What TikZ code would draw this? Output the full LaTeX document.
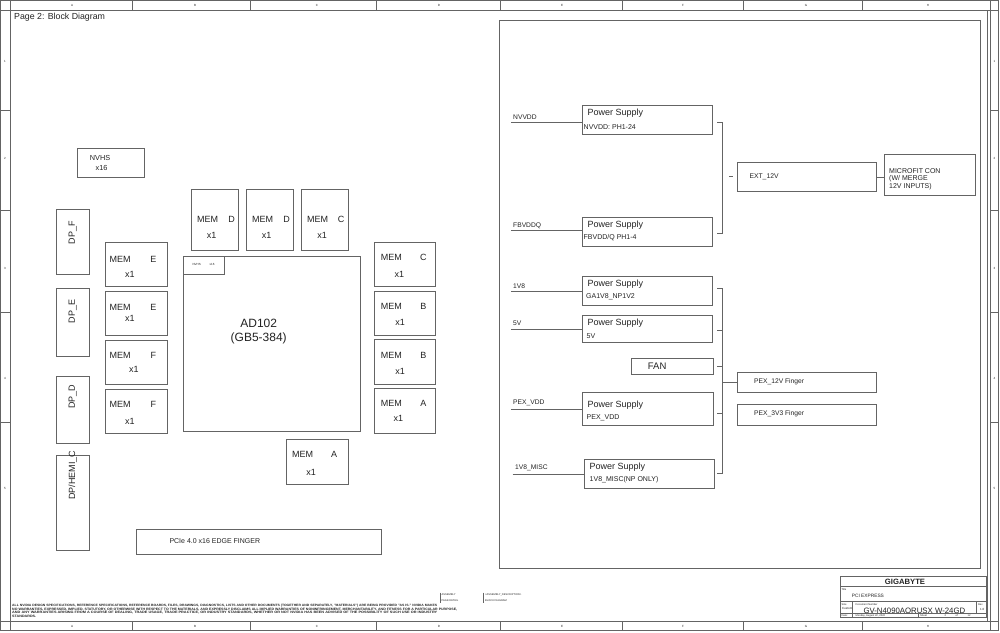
\documentclass[tikz,border=0pt]{standalone}
\usepackage{fontspec}
\setmainfont{Liberation Sans}
\usepackage{graphicx}
\usetikzlibrary{fit}
\definecolor{lc}{RGB}{100,100,100}
\definecolor{tcol}{RGB}{35,35,35}
\newcommand\fsz[1]{\fontsize{#1pt}{#1pt}\selectfont}
\newcommand\bx[5]{\node[bx, fit={(#2,#3) (#4,#5)}] (#1) {};}
\begin{document}
\begin{tikzpicture}[x=1pt,y=-1pt,
  bx/.style={draw=lc, line width=0.7pt, inner sep=0pt},
  wire/.style={draw=lc, line width=0.7pt},
  frm/.style={draw=lc, line width=0.6pt},
  tl/.style={inner sep=0pt, text=tcol, anchor=west},
  tcn/.style={inner sep=0pt, text=tcol, anchor=center},
  memt/.style={tcn, font=\fsz{9}},
  psl/.style={tl, font=\fsz{6.7}},
  pst/.style={tl, font=\fsz{9}},
  pss/.style={tl, font=\fsz{7}},
  tiny/.style={tl, font=\fsz{2.6}},
  strip/.style={tcn, font=\fsz{3}}]
\useasboundingbox (0,0) rectangle (1000,632);
\fill[white] (0,0) rectangle (1000,632);

% ---------- sheet frame ----------
\draw[frm] (0.5,0.5) rectangle (998.5,630.5);
\draw[frm] (0,10) -- (999,10);
\draw[frm] (0,621) -- (999,621);
\draw[frm] (10,0) -- (10,631);
\draw[frm] (990,0) -- (990,631);
\draw[frm] (987,10) -- (987,621);
\foreach \xx in {132,250,376,500,622,743,862} {
  \draw[frm] (\xx,0) -- (\xx,10);
  \draw[frm] (\xx,621) -- (\xx,631);
}
\foreach \yy in {110,210,312,422} {
  \draw[frm] (0,\yy) -- (10,\yy);
  \draw[frm] (990,\yy) -- (999,\yy);
}
\foreach \xx/\ll [count=\i] in {72/A,195/B,317/C,439/D,562/E,683/F,806/G,928/H} {
  \node[strip] (ct\i) at (\xx,5) {\ll};
  \node[strip] (cb\i) at (\xx,626) {\ll};
}
\foreach \yy/\ll [count=\i] in {61/1,158/2,268/3,378/4,488/5} {
  \node[strip] (rl\i) at (5,\yy) {\ll};
  \node[strip] (rr\i) at (994.5,\yy) {\ll};
}

\node[tl, font=\fsz{8.8}] (title) at (14,17) {Page 2: Block Diagram};

% ---------- left part ----------
\bx{nvhs}{77.3}{148}{144.3}{177.3}
\node[tcn, font=\fsz{7.3}] (nvhsA) at (100,158) {NVHS};
\node[tcn, font=\fsz{7.3}] (nvhsB) at (101.5,168) {x16};

% top memories
\bx{mD1}{191.3}{189}{238.7}{250.3}
\node[memt] (mD1a) at (207.7,219) {MEM};
\node[memt] (mD1b) at (231.7,219) {D};
\node[memt] (mD1c) at (211.7,235) {x1};
\bx{mD2}{246.3}{189}{293.7}{250.3}
\node[memt] (mD2a) at (262.7,219) {MEM};
\node[memt] (mD2b) at (286.7,219) {D};
\node[memt] (mD2c) at (266.7,235) {x1};
\bx{mC1}{301.3}{189}{348.7}{250.3}
\node[memt] (mC1a) at (317.7,219) {MEM};
\node[memt] (mC1b) at (341,219) {C};
\node[memt] (mC1c) at (322,235) {x1};

% GPU
\bx{gpu}{183.3}{256.3}{360.7}{431.3}
\bx{gpuin}{183.3}{256.3}{224.3}{274.3}
\node[tcn, font=\fsz{3}] (gin1) at (196.7,264.5) {NVHS};
\node[tcn, font=\fsz{3}] (gin2) at (212,264.5) {x16};
\node[tcn, font=\fsz{12}] (gpu1) at (258.7,323) {AD102};
\node[tcn, font=\fsz{12}] (gpu2) at (258.7,338.5) {(GB5-384)};

% right memories
\bx{mC2}{374.3}{242.3}{435.7}{286.3}
\node[memt] (mC2a) at (391.3,257.7) {MEM};
\node[memt] (mC2b) at (423.3,257.7) {C};
\node[memt] (mC2c) at (399.3,274) {x1};
\bx{mB1}{374.3}{291}{435.7}{335.3}
\node[memt] (mB1a) at (391.3,306.7) {MEM};
\node[memt] (mB1b) at (423.3,306.7) {B};
\node[memt] (mB1c) at (400,322.7) {x1};
\bx{mB2}{374.3}{339.7}{435.7}{384.3}
\node[memt] (mB2a) at (391.3,355.3) {MEM};
\node[memt] (mB2b) at (423.3,355.3) {B};
\node[memt] (mB2c) at (400,371) {x1};
\bx{mA1}{374.3}{388.7}{435.7}{433.3}
\node[memt] (mA1a) at (391.3,403.7) {MEM};
\node[memt] (mA1b) at (423.3,403.7) {A};
\node[memt] (mA1c) at (398.3,418.3) {x1};

% bottom memory
\bx{mA2}{286.7}{439}{348.7}{484.3}
\node[memt] (mA2a) at (302.7,454.3) {MEM};
\node[memt] (mA2b) at (334,454.3) {A};
\node[memt] (mA2c) at (311,472.3) {x1};

% PCIe
\bx{pcie}{136.7}{529}{381.7}{554.3}
\node[tl, font=\fsz{7}] (pciet) at (169.3,540.7) {PCIe 4.0 x16 EDGE FINGER};

% display outputs
\bx{dpF}{56.7}{209.3}{89.7}{274}
\node[tcn, font=\fsz{9}, rotate=90] (dpFt) at (72.7,232.5) {DP\_F};
\bx{dpE}{56.7}{288.3}{89.7}{356}
\node[tcn, font=\fsz{9}, rotate=90] (dpEt) at (72.7,311.7) {DP\_E};
\bx{dpD}{56.7}{376.7}{89.7}{443.3}
\node[tcn, font=\fsz{9}, rotate=90] (dpDt) at (72.7,396.7) {DP\_D};
\bx{dpC}{56.7}{455.7}{89.7}{550}
\node[tcn, font=\fsz{9}, rotate=90] (dpCt) at (72.7,475) {DP/HEMI\_C};

% left memories
\bx{mE1}{105.7}{242.3}{167.3}{286.7}
\node[memt] (mE1a) at (120,259) {MEM};
\node[memt] (mE1b) at (153.3,259) {E};
\node[memt] (mE1c) at (130,274) {x1};
\bx{mE2}{105.7}{291}{167.3}{335.3}
\node[memt] (mE2a) at (120,307.3) {MEM};
\node[memt] (mE2b) at (153.3,307.3) {E};
\node[memt] (mE2c) at (130,318.7) {x1};
\bx{mF1}{105.7}{340}{167.3}{384.3}
\node[memt] (mF1a) at (120,355.7) {MEM};
\node[memt] (mF1b) at (153.3,355.7) {F};
\node[memt] (mF1c) at (134,369.7) {x1};
\bx{mF2}{105.7}{389}{167.3}{433.3}
\node[memt] (mF2a) at (120,404.3) {MEM};
\node[memt] (mF2b) at (153.3,404.3) {F};
\node[memt] (mF2c) at (130,421) {x1};

% ---------- power panel ----------
\bx{panel}{499.3}{20}{980.7}{568}

\bx{psNV}{582.3}{105.3}{712.7}{134.3}
\node[pst] (psNVa) at (587.3,113.3) {Power Supply};
\node[pss] (psNVb) at (583.5,126.7) {NVVDD: PH1-24};
\bx{psFB}{582.3}{217.3}{712.7}{246.3}
\node[pst] (psFBa) at (587.3,225) {Power Supply};
\node[pss] (psFBb) at (583.5,237.7) {FBVDD/Q PH1-4};
\bx{ps18}{582.3}{276}{712.7}{305}
\node[pst] (ps18a) at (587.3,284) {Power Supply};
\node[pss] (ps18b) at (586,296.7) {GA1V8\_NP1V2};
\bx{ps5}{582.3}{315}{712.7}{342.7}
\node[pst] (ps5a) at (587.3,322.7) {Power Supply};
\node[pss] (ps5b) at (586.5,336) {5V};
\bx{fan}{631.7}{358.7}{713.3}{374.3}
\node[tl, font=\fsz{9.5}] (fant) at (647.7,366.3) {FAN};
\bx{psPX}{582.7}{392.3}{713.3}{425.3}
\node[pst] (psPXa) at (587.3,405) {Power Supply};
\node[pss] (psPXb) at (586.5,417.7) {PEX\_VDD};
\bx{psMS}{584.7}{459.3}{714.3}{488.3}
\node[pst] (psMSa) at (589.3,466.7) {Power Supply};
\node[pss] (psMSb) at (589.5,480) {1V8\_MISC(NP ONLY)};

\bx{ext}{737.3}{162.7}{876}{191}
\node[tl, font=\fsz{6.8}] (extt) at (749.3,176.3) {EXT\_12V};
\bx{mfit}{884.3}{154.3}{975.7}{195.3}
\node[tl, font=\fsz{7}] (mfit1) at (889,171) {MICROFIT CON};
\node[tl, font=\fsz{7}] (mfit2) at (889,178.8) {(W/ MERGE};
\node[tl, font=\fsz{7}] (mfit3) at (889,186.7) {12V INPUTS)};
\bx{p12}{737.3}{372.7}{876.7}{392.3}
\node[tl, font=\fsz{6.7}] (p12t) at (754,381.3) {PEX\_12V Finger};
\bx{p33}{737.3}{404.3}{876.7}{425}
\node[tl, font=\fsz{6.7}] (p33t) at (754,413.5) {PEX\_3V3 Finger};

% input rails
\coordinate (iNV) at (511,122.3);
\coordinate (iFB) at (511,230);
\coordinate (i18) at (511,291.7);
\coordinate (i5) at (511,329.3);
\coordinate (iPX) at (511,409.3);
\coordinate (iMS) at (512.7,474.3);
\draw[wire] (iNV) -- (iNV -| psNV.west);
\draw[wire] (iFB) -- (iFB -| psFB.west);
\draw[wire] (i18) -- (i18 -| ps18.west);
\draw[wire] (i5) -- (i5 -| ps5.west);
\draw[wire] (iPX) -- (iPX -| psPX.west);
\draw[wire] (iMS) -- (iMS -| psMS.west);
\node[psl] (lNV) at (513,116.7) {NVVDD};
\node[psl] (lFB) at (513,226) {FBVDDQ};
\node[psl] (l18) at (513,285.7) {1V8};
\node[psl] (l5) at (513,323.3) {5V};
\node[psl] (lPX) at (513,403.3) {PEX\_VDD};
\node[psl] (lMS) at (515,468.3) {1V8\_MISC};

% bracket to EXT_12V
\coordinate (b1s) at (717.3,122.7);
\coordinate (b1e) at (722.7,122.7);
\coordinate (b2s) at (717.3,233.3);
\coordinate (b2e) at (722.7,233.3);
\draw[wire] (b1s) -- (b1e) -- (b2e) -- (b2s);
\coordinate (d1) at (729.3,176);
\coordinate (d2) at (733.3,176);
\draw[wire] (d1) -- (d2);
\draw[wire] (ext.east) -- (ext.east -| mfit.west);

% bracket to PEX_12V
\coordinate (c1) at (717.3,288.3);
\coordinate (c1e) at (722.7,288.3);
\coordinate (c2) at (717.3,330.7);
\coordinate (c3) at (717.3,366);
\coordinate (c4) at (717.3,413.3);
\coordinate (c5) at (717.3,473.3);
\coordinate (c5e) at (722.7,473.3);
\coordinate (cm) at (722.7,382.7);
\draw[wire] (c1) -- (c1e) -- (c5e) -- (c5);
\draw[wire] (c2) -- (c2 -| c1e);
\draw[wire] (c3) -- (c3 -| c1e);
\draw[wire] (c4) -- (c4 -| c1e);
\draw[wire] (cm) -- (cm -| p12.west);

% ---------- bottom notes ----------
\node[tl] (disc1) at (12,605.7) {\resizebox{425pt}{2.3pt}{\bfseries\fsz{5}ALL NVIDIA DESIGN SPECIFICATIONS, REFERENCE SPECIFICATIONS, REFERENCE BOARDS, FILES, DRAWINGS, DIAGNOSTICS, LISTS AND OTHER DOCUMENTS (TOGETHER AND SEPARATELY, "MATERIALS") ARE BEING PROVIDED "AS IS." NVIDIA MAKES}};
\node[tl] (disc2) at (12,609.2) {\resizebox{445pt}{2.3pt}{\bfseries\fsz{5}NO WARRANTIES, EXPRESSED, IMPLIED, STATUTORY, OR OTHERWISE WITH RESPECT TO THE MATERIALS, AND EXPRESSLY DISCLAIMS ALL IMPLIED WARRANTIES OF NONINFRINGEMENT, MERCHANTABILITY, AND FITNESS FOR A PARTICULAR PURPOSE,}};
\node[tl] (disc3) at (12,612.7) {\resizebox{425pt}{2.3pt}{\bfseries\fsz{5}AND ANY WARRANTIES ARISING FROM A COURSE OF DEALING, TRADE USAGE, TRADE PRACTICE, OR INDUSTRY STANDARDS, WHETHER OR NOT NVIDIA HAS BEEN ADVISED OF THE POSSIBILITY OF SUCH USE OR INDUSTRY}};
\node[tl] (disc4) at (12,616.2) {\resizebox{24pt}{2.3pt}{\bfseries\fsz{5}STANDARDS.}};

\coordinate (v1a) at (440,592.7);
\coordinate (v1b) at (440,603.3);
\coordinate (v2a) at (483,592.7);
\coordinate (v2b) at (483,603.3);
\draw[frm, line width=0.4pt] (v1a) -- (v1b);
\draw[frm, line width=0.4pt] (v2a) -- (v2b);
\node[tiny] (as1) at (441.5,594.5) {ASSEMBLY};
\node[tiny] (as2) at (441.5,600.5) {PAGE DETAIL};
\node[tiny] (as3) at (485,594.5) {<ASSEMBLY\_DESCRIPTION>};
\node[tiny] (as4) at (485,600.5) {BLOCK DIAGRAM};

% ---------- title block ----------
\draw[frm] (840,576) rectangle (986.7,617.7);
\draw[frm] (840,586.7) -- (986.7,586.7);
\draw[frm] (840,601.7) -- (986.7,601.7);
\draw[frm] (840,613.3) -- (986.7,613.3);
\draw[frm] (852.3,601.7) -- (852.3,617.7);
\draw[frm] (976.7,601.7) -- (976.7,613.3);
\draw[frm] (918.3,613.3) -- (918.3,617.7);
\node[tcn, font=\bfseries\fsz{7.7}] (gb) at (905,582) {GIGABYTE};
\node[tiny] (tbt) at (841.3,589.3) {Title};
\node[tl, font=\fsz{4.8}] (tbt2) at (851.7,596) {PCI EXPRESS};
\node[tiny] (tbs) at (841.3,604.2) {Size};
\node[tl, font=\fsz{3}] (tbs2) at (841.8,608.7) {Custom};
\node[tiny] (tbd) at (855.5,604.2) {Document Number};
\node[tl, font=\fsz{7.8}] (tbn) at (863.3,610.5) {GV-N4090AORUSX W-24GD};
\node[tiny] (tbr) at (977.8,604.2) {Rev};
\node[tl, font=\fsz{3}] (tbr2) at (980,609) {1.0};
\node[tiny] (tbda) at (841.3,615.5) {Date:};
\node[tiny] (tbdb) at (855.5,615.5) {Monday, August 22, 2022};
\node[tiny] (tbsh) at (920,615.5) {Sheet};
\node[tiny] (tbs2n) at (944.5,615.5) {2};
\node[tiny] (tbof) at (955.5,615.5) {of};
\node[tiny] (tb12) at (967.5,615.5) {12};
\end{tikzpicture}
\end{document}
